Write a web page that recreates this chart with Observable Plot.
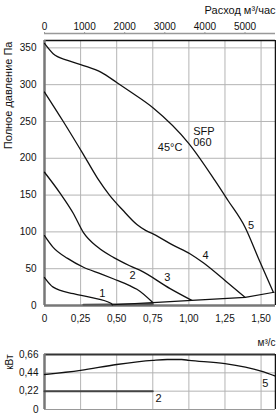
<!DOCTYPE html>
<html>
<head>
<meta charset="utf-8">
<script src="https://cdn.jsdelivr.net/npm/d3@7"></script>
<script src="https://cdn.jsdelivr.net/npm/@observablehq/plot@0.6"></script>
<style>
body{margin:0;background:#fff;}
#c{width:276px;height:415px;overflow:hidden;}
#c svg{display:block;}
</style>
</head>
<body>
<div id="c"></div>
<script>
// ---- data (flow in m3/s, pressure in Pa, power in kW)
const xTicks = [0, 0.25, 0.5, 0.75, 1.0, 1.25, 1.5];
const topTicks = [0, 1000, 2000, 3000, 4000, 5000];
const yTicks = [0, 50, 100, 150, 200, 250, 300, 350];
const kwTicks = [0, 0.22, 0.44, 0.66];

const flow5 = [0, 0.06, 0.16, 0.27, 0.39, 0.50, 0.59, 0.755, 1.0, 1.18, 1.27, 1.39, 1.48, 1.585];
const p5    = [356, 342, 333, 326, 317, 303, 291, 268, 220, 170, 143, 106, 65, 18];
const flow4 = [0, 0.13, 0.27, 0.37, 0.45, 0.54, 0.64, 0.70, 0.755, 0.89, 1.01, 1.10, 1.25, 1.39];
const p4    = [290, 250, 205, 172, 150, 130, 110, 102, 97, 82, 70, 58, 34, 11];
const flow3 = [0, 0.11, 0.20, 0.27, 0.37, 0.48, 0.59, 0.66, 0.87, 1.02];
const p3    = [181, 152, 125, 99, 79, 65, 54, 48, 23, 7];
const flow2 = [0, 0.06, 0.16, 0.27, 0.39, 0.48, 0.59, 0.64, 0.75];
const p2    = [95, 79, 64, 52, 43, 36, 27, 22, 4];
const flow1 = [0, 0.06, 0.20, 0.32, 0.46, 0.47];
const p1    = [38, 25, 16, 11, 3, 1];
const flowSys = [0.47, 0.75, 1.02, 1.39, 1.59];
const pSys    = [1, 4, 7, 11, 18];
const flowBase = [0.27, 0.75];
const pBase    = [1, 2];

const curveLabels = ["1", "2", "3", "4", "5"];
const labelFlow = [0.40, 0.61, 0.85, 1.115, 1.43];
const labelP    = [16, 41, 38, 68, 109];

const flowKw5 = [0, 0.25, 0.5, 0.75, 0.85, 0.95, 1.0, 1.25, 1.5, 1.6];
const kw5     = [0.42, 0.47, 0.54, 0.59, 0.60, 0.60, 0.59, 0.55, 0.46, 0.40];
const flowKw2 = [0, 0.75];
const kw2     = [0.22, 0.22];
const kwLabels = ["2", "5"];
const kwLabelFlow = [0.79, 1.53];
const kwLabelVal = [0.13, 0.31];

const zip = (xs, ys) => xs.map((x, i) => ({x, y: ys[i]}));
const fmtX = d => d === 0 ? "0" : d.toFixed(2).replace(".", ",");
const fmtKw = d => d === 0 ? "0" : d.toFixed(2).replace(".", ",");
const FONT = "Liberation Sans, Arial, sans-serif";
const GRID = "#b4b4b4";
const AX = "#777";

const curveStyle = {x: "x", y: "y", stroke: "#111", strokeWidth: 1.3, curve: "monotone-x"};

const chartTop = Plot.plot({
  width: 276, height: 330,
  marginLeft: 44, marginRight: 1, marginTop: 40, marginBottom: 25,
  style: {fontFamily: FONT, fontSize: "10px", background: "white", color: "#111"},
  x: {domain: [0, 1.6]},
  y: {domain: [0, 360]},
  marks: [
    Plot.gridX(xTicks.slice(1), {stroke: GRID, strokeOpacity: 1}),
    Plot.gridY(yTicks.slice(1), {stroke: GRID, strokeOpacity: 1}),
    Plot.ruleY([360], {stroke: "#111", strokeWidth: 1.5}),
    Plot.ruleX([1.6], {stroke: "#111", strokeWidth: 1.5}),
    Plot.ruleX([0], {stroke: AX, strokeWidth: 2.5}),
    Plot.ruleY([0], {stroke: AX, strokeWidth: 2.5}),
    Plot.ruleY([360], {dy: -7, stroke: "#999", strokeWidth: 1.5}),
    Plot.axisX({anchor: "bottom", ticks: xTicks, tickSize: 0, tickPadding: 9, tickFormat: fmtX, label: null}),
    Plot.axisX({anchor: "top", ticks: topTicks.map(v => v / 3600), tickFormat: d => String(Math.round(d * 3600)), tickSize: 2, tickPadding: 2, dy: -7, stroke: "#999", label: null}),
    Plot.axisY({ticks: yTicks, tickSize: 0, tickPadding: 8, label: null}),
    Plot.line(zip(flowBase, pBase), {x: "x", y: "y", stroke: "#555", strokeWidth: 2.2}),
    Plot.line(zip(flowSys, pSys), {x: "x", y: "y", stroke: "#111", strokeWidth: 1.2}),
    Plot.line(zip(flow1, p1), curveStyle),
    Plot.line(zip(flow2, p2), curveStyle),
    Plot.line(zip(flow3, p3), curveStyle),
    Plot.line(zip(flow4, p4), curveStyle),
    Plot.line(zip(flow5, p5), curveStyle),
    Plot.text(curveLabels, {x: (d, i) => labelFlow[i], y: (d, i) => labelP[i], text: d => d, fontSize: 11, fill: "#111"}),
    Plot.text(["SFP"], {x: [1.03], y: [237], textAnchor: "start", fontSize: 11, fill: "#111"}),
    Plot.text(["060"], {x: [1.03], y: [221], textAnchor: "start", fontSize: 11, fill: "#111"}),
    Plot.text(["45°C"], {x: [0.955], y: [215], textAnchor: "end", fontSize: 11, fill: "#111"}),
    Plot.text(["Расход м³/час"], {frameAnchor: "top-right", textAnchor: "end", lineAnchor: "middle", dy: -30, fontSize: 11, fill: "#111"}),
    Plot.text(["Полное давление Па"], {frameAnchor: "top-left", rotate: -90, textAnchor: "end", lineAnchor: "middle", dx: -36, dy: 1, fontSize: 11, fill: "#111"})
  ]
});

const chartBottom = Plot.plot({
  width: 276, height: 85,
  marginLeft: 44, marginRight: 1, marginTop: 24, marginBottom: 6,
  style: {fontFamily: FONT, fontSize: "10px", background: "white", color: "#111"},
  x: {domain: [0, 1.6], axis: null},
  y: {domain: [0, 0.66]},
  marks: [
    Plot.gridX(xTicks.slice(1), {stroke: GRID, strokeOpacity: 1}),
    Plot.gridY(kwTicks.slice(1, 3), {stroke: GRID, strokeOpacity: 1}),
    Plot.ruleY([0.66], {stroke: "#333", strokeWidth: 2}),
    Plot.ruleX([1.6], {stroke: "#111", strokeWidth: 1.5}),
    Plot.ruleX([0], {stroke: AX, strokeWidth: 2.5}),
    Plot.ruleY([0], {stroke: "#999", strokeWidth: 1}),
    Plot.axisY({ticks: kwTicks, tickSize: 0, tickPadding: 6, tickFormat: fmtKw, label: null}),
    Plot.line(zip(flowKw2, kw2), {x: "x", y: "y", stroke: "#444", strokeWidth: 2}),
    Plot.line(zip(flowKw5, kw5), curveStyle),
    Plot.text(kwLabels, {x: (d, i) => kwLabelFlow[i], y: (d, i) => kwLabelVal[i], text: d => d, fontSize: 11, fill: "#111"}),
    Plot.text(["м³/с"], {frameAnchor: "top-right", textAnchor: "end", lineAnchor: "middle", dy: -12, fontSize: 10, fill: "#111"}),
    Plot.text(["кВт"], {frameAnchor: "top-left", rotate: -90, textAnchor: "end", lineAnchor: "middle", dx: -35, dy: 0, fontSize: 10, fill: "#111"})
  ]
});

const c = document.getElementById("c");
c.appendChild(chartTop);
c.appendChild(chartBottom);
</script>
</body>
</html>
